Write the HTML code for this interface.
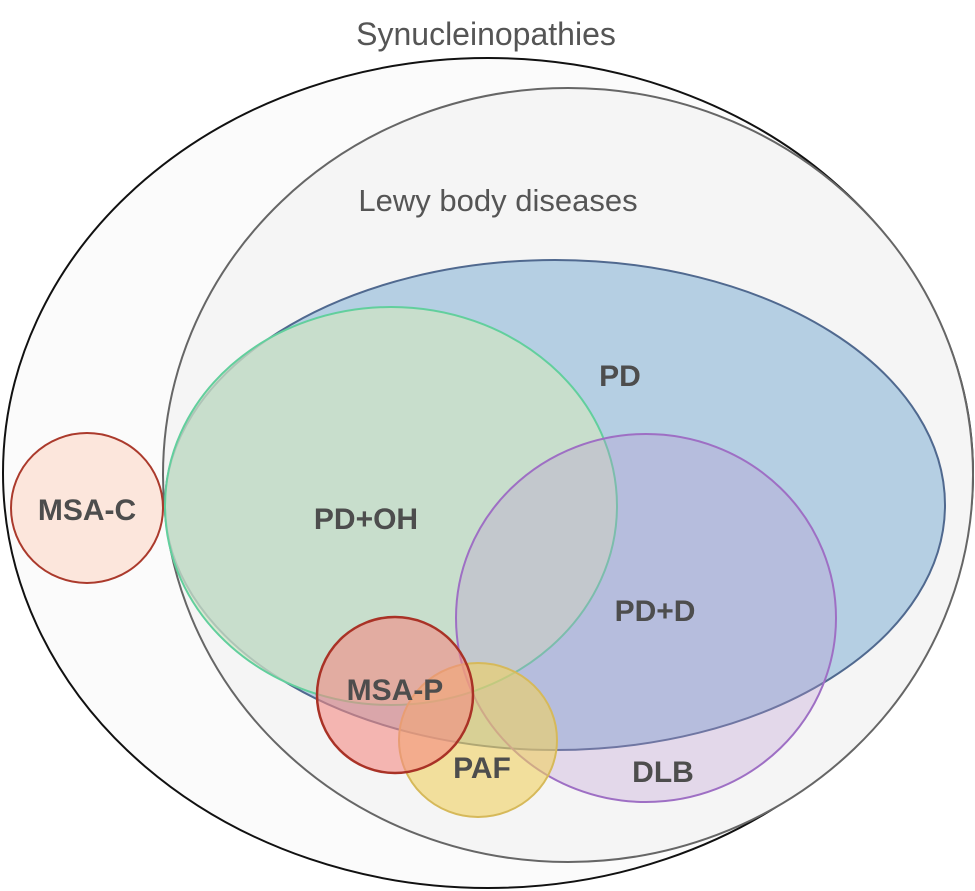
<!DOCTYPE html>
<html><head><meta charset="utf-8"><style>html,body{margin:0;padding:0;background:#fff}svg{display:block}</style></head><body>
<svg width="975" height="891" viewBox="0 0 975 891" xmlns="http://www.w3.org/2000/svg" font-family="Liberation Sans, sans-serif">
<ellipse cx="488" cy="473" rx="485" ry="415" fill="#fbfbfb" stroke="#111" stroke-width="2"/>
<ellipse cx="568" cy="475" rx="405" ry="387" fill="#f5f5f5" stroke="#666" stroke-width="2"/>
<ellipse cx="555" cy="505" rx="390" ry="245" fill="#b5cfe3" stroke="#50698f" stroke-width="2"/>
<ellipse cx="391" cy="506" rx="226" ry="199" fill="#cfe3c4" fill-opacity="0.75" stroke="#62cf9d" stroke-width="2"/>
<ellipse cx="646" cy="618" rx="190" ry="184" fill="rgb(185,148,208)" fill-opacity="0.3" stroke="#9e6fc4" stroke-width="2"/>
<ellipse cx="478" cy="740" rx="79" ry="77" fill="#f0d060" fill-opacity="0.6" stroke="#d6b95a" stroke-width="2"/>
<circle cx="395" cy="695" r="78" fill="#f48a84" fill-opacity="0.6" stroke="#a93226" stroke-width="2.5"/>
<ellipse cx="87" cy="508" rx="76" ry="75" fill="#fce6dc" stroke="#ab3a2c" stroke-width="2"/>
<g fill="#555" text-anchor="middle">
<text x="486" y="45" font-size="32">Synucleinopathies</text>
<text x="498" y="211" font-size="31">Lewy body diseases</text>
</g>
<g fill="#4d4d4d" font-size="30" font-weight="bold" text-anchor="middle">
<text x="620" y="386">PD</text>
<text x="366" y="529">PD+OH</text>
<text x="655" y="621">PD+D</text>
<text x="87" y="520">MSA-C</text>
<text x="395" y="700">MSA-P</text>
<text x="482" y="778">PAF</text>
<text x="663" y="782">DLB</text>
</g>
</svg>
</body></html>
